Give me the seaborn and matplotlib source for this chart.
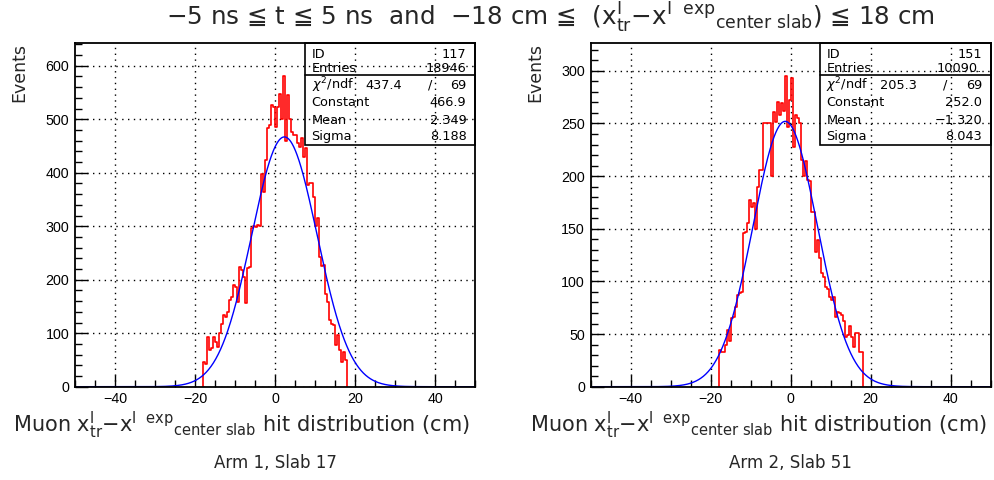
import numpy as np
import pandas as pd
import matplotlib
matplotlib.use("Agg")
import matplotlib.pyplot as plt
import seaborn as sns
from matplotlib.ticker import MultipleLocator, FixedLocator
from matplotlib.patches import Rectangle
from matplotlib.lines import Line2D

sns.set_theme(style="white")
plt.rcParams['font.family'] = ['DejaVu Sans']
plt.rcParams['mathtext.fontset'] = 'dejavusans'
plt.rcParams['axes.unicode_minus'] = True

W, H = 994, 480

# 0.5 cm bins between -18 and +18 cm
bin_lo, bin_hi, bin_w = -18.0, 18.0, 0.5
edges = np.arange(bin_lo, bin_hi + bin_w / 2, bin_w)
centers = edges[:-1] + bin_w / 2

# Arm 1, slab 17 : events per bin
arm1_counts = [
    47, 42, 93, 69, 72, 93, 84, 75, 100, 118,
    134, 131, 140, 162, 168, 190, 187, 158, 224, 218,
    205, 156, 221, 224, 296, 300, 298, 302, 300, 398,
    364, 424, 483, 489, 526, 523, 486, 523, 548, 500,
    580, 460, 545, 500, 477, 470, 470, 455, 448, 464,
    430, 446, 377, 380, 380, 355, 300, 315, 243, 226,
    228, 174, 159, 125, 118, 115, 78, 97, 68, 47,
    65, 50,
]

# Arm 2, slab 51 : events per bin
arm2_counts = [
    35, 33, 33, 40, 54, 43, 65, 66, 76, 87,
    89, 90, 146, 147, 155, 177, 171, 174, 150, 190,
    206, 206, 250, 250, 250, 250, 200, 261, 251, 270,
    258, 269, 262, 295, 247, 272, 293, 228, 258, 255,
    250, 215, 200, 214, 196, 195, 166, 166, 128, 139,
    122, 108, 104, 95, 93, 85, 82, 85, 66, 71,
    70, 68, 62, 47, 49, 58, 47, 38, 51, 51,
    33, 33,
]

# Histogram bookkeeping and Gaussian fit results
hist_ids = [117, 151]
hist_entries = ["18946", "10090."]
fit_chi2 = ["437.4", "205.3"]
fit_ndf = [69, 69]
fit_const = [466.9, 252.0]
fit_mean = [2.349, -1.320]
fit_sigma = [8.188, 8.043]

panel_titles = ["Arm 1, Slab 17", "Arm 2, Slab 51"]
y_max = [643, 326.7]
y_major = [100, 50]
y_minor = [20, 10]

fig = plt.figure(figsize=(W / 100, H / 100), dpi=100)
fig.patch.set_facecolor("white")


def fx(px):
    return px / W


def fy(py):
    return 1 - py / H


# axes frames in pixels: (left, right, top, bottom)
frames = [(75, 475, 42.7, 386.7), (590.5, 990.5, 42.7, 386.7)]

tick_font = dict(family=["Liberation Sans", "DejaVu Sans"], size=10.3)
label_color = "#262626"

# x'_tr - x'^exp_center slab, as drawn in the captions
var_expr = (r"x$^{\mathrm{I}}_{\mathrm{tr}}$" "\u2212"
            r"x$^{\mathrm{I\ \ exp}}$$_{\mathrm{center\ slab}}$")

for i, (l, r, t, b) in enumerate(frames):
    ax = fig.add_axes([fx(l), fy(b), fx(r - l), (b - t) / H])
    counts = np.array([arm1_counts, arm2_counts][i], dtype=float)
    hist_df = pd.DataFrame({"x": centers, "events": counts})

    sns.histplot(data=hist_df, x="x", weights="events", binwidth=bin_w,
                 binrange=(bin_lo, bin_hi), element="step",
                 fill=False, color="red", linewidth=1.2, ax=ax, zorder=3)
    # closing verticals at both ends of the filled range
    ax.vlines([edges[0], edges[-1]], 0, [counts[0], counts[-1]],
              colors="red", linewidth=1.2, zorder=3)

    xs = np.linspace(-50, 50, 1001)
    ys = fit_const[i] * np.exp(-0.5 * ((xs - fit_mean[i]) / fit_sigma[i]) ** 2)
    fit_df = pd.DataFrame({"x": xs, "y": ys})
    sns.lineplot(data=fit_df, x="x", y="y", color="blue", linewidth=1.0, ax=ax,
                 zorder=4, estimator=None, sort=False)

    ax.set_xlim(-50, 50)
    ax.set_ylim(0, y_max[i])
    ax.xaxis.set_major_locator(FixedLocator([-40, -20, 0, 20, 40]))
    ax.xaxis.set_minor_locator(MultipleLocator(5))
    ax.yaxis.set_major_locator(MultipleLocator(y_major[i]))
    ax.yaxis.set_minor_locator(MultipleLocator(y_minor[i]))
    ax.tick_params(which="both", direction="in", bottom=True, left=True,
                   top=False, right=False, color="black", width=1.0)
    ax.tick_params(which="major", length=9, pad=4)
    ax.tick_params(which="minor", length=5)
    for lab in ax.get_xticklabels() + ax.get_yticklabels():
        lab.set_fontfamily(tick_font["family"])
        lab.set_fontsize(tick_font["size"])
        lab.set_color("black")
    ax.set_xlabel("")
    ax.set_ylabel("")
    ax.grid(True, which="major", color="black", linestyle=(0, (1, 3.2)),
            linewidth=1.0)
    ax.set_axisbelow(True)
    for sp in ax.spines.values():
        sp.set_color("black")
        sp.set_linewidth(1.3)
        sp.set_zorder(5)

    # statistics box
    bl, br, bt, bb = (l + 230 if i == 0 else l + 229.5), r, t, 145.0
    fig.add_artist(Rectangle((fx(bl), fy(bb)), fx(br - bl), (bb - bt) / H,
                             fill=False, edgecolor="black", linewidth=1.2,
                             transform=fig.transFigure))
    fig.add_artist(Line2D([fx(bl), fx(br)], [fy(74.5), fy(74.5)],
                          color="black", linewidth=1.2, transform=fig.transFigure))
    lx = bl + 6.5
    vx = br - 8.5
    stat_font = dict(family=["DejaVu Sans"], size=9.3, color="black")
    rows_y = [57.5, 71.5, 89, 106, 123.5, 140]
    fig.text(fx(lx), fy(rows_y[0]), "ID", va="baseline", ha="left", **stat_font)
    fig.text(fx(vx), fy(rows_y[0]), str(hist_ids[i]), va="baseline", ha="right", **stat_font)
    fig.text(fx(lx), fy(rows_y[1]), "Entries", va="baseline", ha="left", **stat_font)
    fig.text(fx(vx), fy(rows_y[1]), hist_entries[i], va="baseline", ha="right", **stat_font)
    fig.text(fx(lx), fy(rows_y[2]), r"$\chi^2$/ndf", va="baseline", ha="left", **stat_font)
    fig.text(fx(bl + 96.5), fy(rows_y[2]), fit_chi2[i], va="baseline", ha="right", **stat_font)
    fig.text(fx(bl + 125.5), fy(rows_y[2]), "/", va="baseline", ha="center", **stat_font)
    fig.text(fx(vx), fy(rows_y[2]), str(fit_ndf[i]), va="baseline", ha="right", **stat_font)
    fig.text(fx(lx), fy(rows_y[3]), "Constant", va="baseline", ha="left", **stat_font)
    fig.text(fx(vx), fy(rows_y[3]), f"{fit_const[i]:.1f}", va="baseline", ha="right", **stat_font)
    fig.text(fx(lx), fy(rows_y[4]), "Mean", va="baseline", ha="left", **stat_font)
    fig.text(fx(vx), fy(rows_y[4]), f"{fit_mean[i]:.3f}".replace("-", "\u2212"),
             va="baseline", ha="right", **stat_font)
    fig.text(fx(lx), fy(rows_y[5]), "Sigma", va="baseline", ha="left", **stat_font)
    fig.text(fx(vx), fy(rows_y[5]), f"{fit_sigma[i]:.3f}", va="baseline", ha="right", **stat_font)

    # axis captions
    cx = (l + r) / 2
    fig.text(fx(l - 56 if i == 0 else l - 55), fy(t + 0.5), "Events", rotation=90,
             ha="center", va="top", fontsize=12.5, color=label_color)
    fig.text(fx(cx - 33 if i == 0 else cx - 32), fy(425),
             "Muon " + var_expr + " hit distribution (cm)", ha="center",
             va="center", fontsize=15, color=label_color)
    fig.text(fx(cx + 0), fy(463), panel_titles[i], ha="center", va="center",
             fontsize=12, color=label_color)

title = ("\u22125 ns \u2266 t \u2266 5 ns  and  \u221218 cm \u2266  ("
         + var_expr + ") \u2266 18 cm")
fig.text(fx(550), fy(18), title, ha="center", va="center", fontsize=17.7,
         color=label_color)

fig.savefig("out.png", dpi=100, facecolor="white")
